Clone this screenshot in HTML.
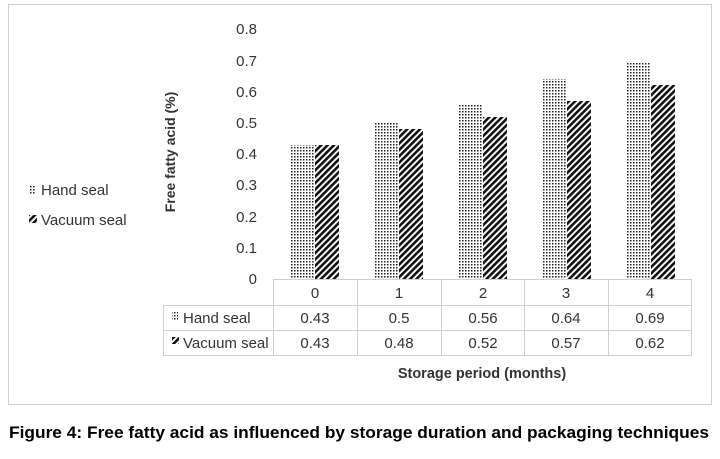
<!DOCTYPE html>
<html><head><style>
body{margin:0;background:#fff;width:720px;height:454px;overflow:hidden}
svg{font-family:"Liberation Sans",sans-serif}
</style></head><body>
<svg width="720" height="454" viewBox="0 0 720 454">
<defs>
<pattern id="dots" width="3" height="3" patternUnits="userSpaceOnUse">
<rect width="3" height="3" fill="#fff"/><rect width="1.5" height="1.5" fill="#222"/>
</pattern>
<pattern id="hatch" width="4.5" height="4.5" patternUnits="userSpaceOnUse" patternTransform="rotate(45)">
<rect width="4.5" height="4.5" fill="#fff"/><rect width="2.6" height="4.5" fill="#111"/>
</pattern>
</defs>
<rect x="8.5" y="4.5" width="703" height="400" fill="none" stroke="#d0d0d0"/>
<g font-size="15" fill="#333" text-anchor="end">
<text x="257" y="284">0</text>
<text x="257" y="253">0.1</text>
<text x="257" y="222">0.2</text>
<text x="257" y="190">0.3</text>
<text x="257" y="159">0.4</text>
<text x="257" y="128">0.5</text>
<text x="257" y="97">0.6</text>
<text x="257" y="66">0.7</text>
<text x="257" y="34">0.8</text>
</g>
<text transform="translate(175,152) rotate(-90)" font-size="14" font-weight="bold" fill="#333" text-anchor="middle">Free fatty acid (%)</text>
<g>
<rect x="291" y="145" width="24" height="134" fill="url(#dots)"/><rect x="315" y="145" width="24" height="134" fill="url(#hatch)"/>
<rect x="375" y="123" width="24" height="156" fill="url(#dots)"/><rect x="399" y="129" width="24" height="150" fill="url(#hatch)"/>
<rect x="459" y="104" width="24" height="175" fill="url(#dots)"/><rect x="483" y="117" width="24" height="162" fill="url(#hatch)"/>
<rect x="543" y="79" width="24" height="200" fill="url(#dots)"/><rect x="567" y="101" width="24" height="178" fill="url(#hatch)"/>
<rect x="627" y="63" width="24" height="216" fill="url(#dots)"/><rect x="651" y="85" width="24" height="194" fill="url(#hatch)"/>
</g>
<g stroke="#d0d0d0" fill="none">
<line x1="273" y1="279.5" x2="692" y2="279.5"/>
<line x1="163" y1="305.5" x2="692" y2="305.5"/>
<line x1="163" y1="330.5" x2="692" y2="330.5"/>
<line x1="163" y1="355.5" x2="692" y2="355.5"/>
<line x1="163.5" y1="305" x2="163.5" y2="355"/>
<line x1="273.5" y1="279" x2="273.5" y2="355"/>
<line x1="357.5" y1="279" x2="357.5" y2="355"/>
<line x1="441.5" y1="279" x2="441.5" y2="355"/>
<line x1="524.5" y1="279" x2="524.5" y2="355"/>
<line x1="608.5" y1="279" x2="608.5" y2="355"/>
<line x1="691.5" y1="279" x2="691.5" y2="355"/>
</g>
<g font-size="15" fill="#333" text-anchor="middle">
<text x="315" y="298">0</text><text x="399" y="298">1</text><text x="483" y="298">2</text><text x="566" y="298">3</text><text x="650" y="298">4</text>
<text x="315" y="323">0.43</text><text x="399" y="323">0.5</text><text x="483" y="323">0.56</text><text x="566" y="323">0.64</text><text x="650" y="323">0.69</text>
<text x="315" y="348">0.43</text><text x="399" y="348">0.48</text><text x="483" y="348">0.52</text><text x="566" y="348">0.57</text><text x="650" y="348">0.62</text>
</g>
<rect x="172" y="312" width="6" height="8" fill="url(#dots)"/>
<rect x="172" y="337" width="7" height="7" fill="url(#hatch)"/>
<text x="183" y="323" font-size="15" fill="#333">Hand seal</text>
<text x="183" y="348" font-size="15" fill="#333">Vacuum seal</text>
<rect x="30" y="185" width="6" height="9" fill="url(#dots)"/>
<rect x="29" y="215" width="8" height="8" fill="url(#hatch)"/>
<text x="41" y="195" font-size="15" fill="#333">Hand seal</text>
<text x="41" y="225" font-size="15" fill="#333">Vacuum seal</text>
<text x="482" y="378" font-size="14.5" font-weight="bold" fill="#333" text-anchor="middle">Storage period (months)</text>
<text x="9" y="438" font-size="16.6" font-weight="bold" fill="#000" textLength="700" lengthAdjust="spacingAndGlyphs">Figure 4: Free fatty acid as influenced by storage duration and packaging techniques</text>
</svg>
</body></html>
